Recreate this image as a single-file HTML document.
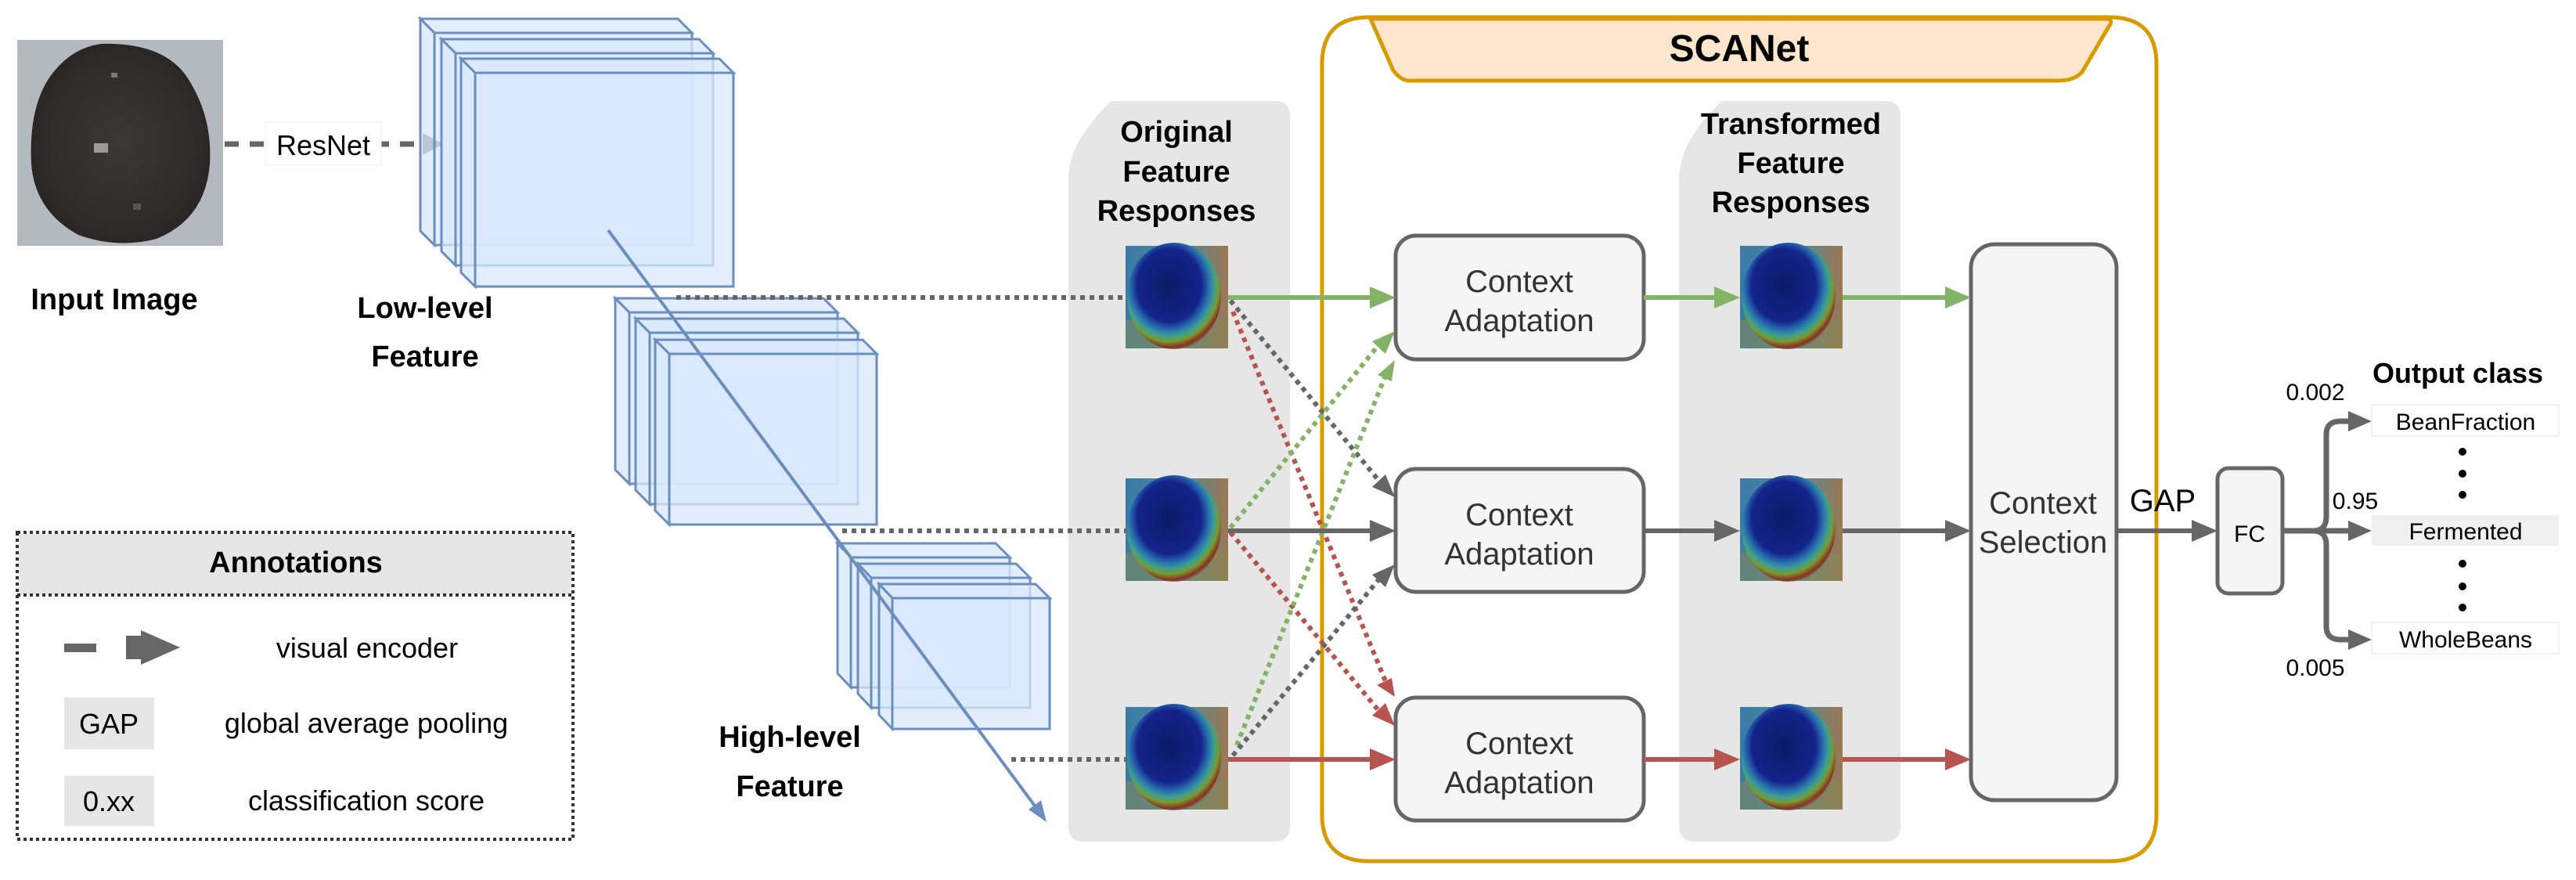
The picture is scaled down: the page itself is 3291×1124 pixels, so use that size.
<!DOCTYPE html>
<html><head><meta charset="utf-8"><style>
html,body{margin:0;padding:0;background:#fff;}
svg{display:block;}
text{font-family:"Liberation Sans",Arial,sans-serif;}
.b{font-weight:bold;fill:#000;}
</style></head><body>
<svg width="3291" height="1124" viewBox="0 0 3291 1124" xmlns="http://www.w3.org/2000/svg">
<defs>
<linearGradient id="hbg" x1="0" y1="0" x2="1" y2="0">
<stop offset="0" stop-color="#3a7aa8"/><stop offset="0.5" stop-color="#4b8a9a"/><stop offset="1" stop-color="#9a7855"/>
</linearGradient>
<radialGradient id="hrad" cx="0.45" cy="0.4" r="0.62">
<stop offset="0" stop-color="#0d1a66"/><stop offset="0.55" stop-color="#13238a"/><stop offset="0.68" stop-color="#2a6fb0"/><stop offset="0.77" stop-color="#3aa090"/><stop offset="0.85" stop-color="#7a9a30"/><stop offset="0.94" stop-color="#8a3020"/><stop offset="1" stop-color="#7a5050" stop-opacity="0.3"/>
</radialGradient>
<g id="heat">
<rect x="0" y="0" width="131" height="131" fill="url(#hbg)"/>
<rect x="0" y="95" width="131" height="36" fill="#8a8a50" opacity="0.5"/>
<ellipse cx="62" cy="64" rx="60" ry="68" fill="url(#hrad)"/>
</g>
<radialGradient id="bean" cx="0.5" cy="0.5" r="0.5">
<stop offset="0" stop-color="#3c3838"/><stop offset="0.9" stop-color="#2e2a2a"/><stop offset="1" stop-color="#2a2626"/>
</radialGradient>
</defs>

<!-- input image -->
<rect x="22" y="51" width="263" height="263" fill="#b4b9c0"/>
<path d="M130,56 Q210,54 240,100 Q272,150 268,210 Q262,280 200,305 Q150,318 100,300 Q45,270 40,210 Q36,130 70,90 Q95,60 130,56 z" fill="url(#bean)"/>
<rect x="120" y="183" width="18" height="12" fill="#9a9a9a"/>
<rect x="142" y="93" width="8" height="6" fill="#777"/>
<rect x="170" y="260" width="10" height="8" fill="#555"/>
<text x="146" y="395" class="b" font-size="38" text-anchor="middle">Input Image</text>

<!-- ResNet -->
<line x1="287" y1="184" x2="545" y2="184" stroke="#666" stroke-width="7" stroke-dasharray="18 14"/>
<rect x="339" y="156" width="148" height="55" fill="#fff" stroke="#eee" stroke-width="1"/>
<text x="413" y="198" font-size="36" text-anchor="middle" fill="#000">ResNet</text>
<path d="M540,170 L566,184 L540,198 z" fill="#666"/>

<!-- cubes -->
<g fill="#dae8fc" fill-opacity="0.75" stroke="#6c8ebf" stroke-width="3">
<polygon points="537,24 866,24 884,42 555,42"/><polygon points="537,24 555,42 555,313 537,295"/><rect x="555" y="42" width="329" height="271"/>
<polygon points="564,50 893,50 911,68 582,68"/><polygon points="564,50 582,68 582,339 564,321"/><rect x="582" y="68" width="329" height="271"/>
<polygon points="589,75 919,75 937,93 607,93"/><polygon points="589,75 607,93 607,366 589,348"/><rect x="607" y="93" width="330" height="273"/>

<polygon points="786,381 1052,381 1070,399 804,399"/><polygon points="786,381 804,399 804,618 786,600"/><rect x="804" y="399" width="266" height="219"/>
<polygon points="812,407 1078,407 1096,425 830,425"/><polygon points="812,407 830,425 830,644 812,626"/><rect x="830" y="425" width="266" height="219"/>
<polygon points="837,434 1102,434 1120,452 855,452"/><polygon points="837,434 855,452 855,670 837,652"/><rect x="855" y="452" width="265" height="218"/>

<polygon points="1070,694 1272,694 1290,712 1087,712"/><polygon points="1070,694 1087,712 1087,878 1070,860"/><rect x="1087" y="712" width="203" height="166"/>
<polygon points="1096,720 1298,720 1316,738 1113,738"/><polygon points="1096,720 1113,738 1113,904 1096,886"/><rect x="1113" y="738" width="203" height="166"/>
<polygon points="1123,746 1323,746 1341,764 1140,764"/><polygon points="1123,746 1140,764 1140,931 1123,913"/><rect x="1140" y="764" width="201" height="167"/>
</g>
<text x="543" y="406" class="b" font-size="38" text-anchor="middle">Low-level</text>
<text x="543" y="468" class="b" font-size="38" text-anchor="middle">Feature</text>
<text x="1009" y="954" class="b" font-size="38" text-anchor="middle">High-level</text>
<text x="1009" y="1017" class="b" font-size="38" text-anchor="middle">Feature</text>

<!-- annotations -->
<rect x="22" y="680" width="710" height="392" fill="#fff" stroke="#333" stroke-width="4" stroke-dasharray="4 4"/>
<rect x="24" y="682" width="706" height="78" fill="#e6e6e6"/>
<line x1="22" y1="760" x2="732" y2="760" stroke="#333" stroke-width="4" stroke-dasharray="4 4"/>
<rect x="22" y="680" width="710" height="392" fill="none" stroke="#333" stroke-width="4" stroke-dasharray="4 4"/>
<text x="378" y="731" class="b" font-size="38" text-anchor="middle">Annotations</text>
<rect x="82" y="822" width="41" height="11" fill="#666"/>
<path d="M161,812 L180,812 L180,805 L230,827 L180,849 L180,842 L161,842 z" fill="#666"/>
<text x="469" y="840" font-size="36" text-anchor="middle" fill="#000">visual encoder</text>
<rect x="82" y="891" width="115" height="66" fill="#e6e6e6"/>
<text x="139" y="937" font-size="36" text-anchor="middle" fill="#000">GAP</text>
<text x="468" y="936" font-size="36" text-anchor="middle" fill="#000">global average pooling</text>
<rect x="82" y="991" width="115" height="64" fill="#e6e6e6"/>
<text x="139" y="1036" font-size="36" text-anchor="middle" fill="#000">0.xx</text>
<text x="468" y="1035" font-size="36" text-anchor="middle" fill="#000">classification score</text>

<!-- blue arrow -->
<line x1="777" y1="294" x2="1330" y2="1040" stroke="#6c8ebf" stroke-width="4"/>
<path d="M1337,1050 L1314,1034 L1330,1022 z" fill="#6c8ebf"/>

<!-- panels -->
<path d="M1420,129 L1628,129 Q1648,129 1648,149 L1648,1055 Q1648,1075 1628,1075 L1385,1075 Q1365,1075 1365,1055 L1365,230 Q1365,180 1420,129 z" fill="#e6e6e6"/>
<path d="M2200,129 L2408,129 Q2428,129 2428,149 L2428,1055 Q2428,1075 2408,1075 L2165,1075 Q2145,1075 2145,1055 L2145,230 Q2145,180 2200,129 z" fill="#e6e6e6"/>
<text x="1503" y="181" class="b" font-size="38" text-anchor="middle">Original</text>
<text x="1503" y="232" class="b" font-size="38" text-anchor="middle">Feature</text>
<text x="1503" y="282" class="b" font-size="38" text-anchor="middle">Responses</text>
<text x="2288" y="171" class="b" font-size="38" text-anchor="middle">Transformed</text>
<text x="2288" y="221" class="b" font-size="38" text-anchor="middle">Feature</text>
<text x="2288" y="271" class="b" font-size="38" text-anchor="middle">Responses</text>

<!-- dotted from cubes -->
<g stroke="#666" stroke-width="6" stroke-dasharray="6 6" fill="none">
<line x1="864" y1="380" x2="1438" y2="380"/>
<line x1="1076" y1="678" x2="1438" y2="678"/>
<line x1="1292" y1="970" x2="1438" y2="970"/>
</g>

<!-- SCANet -->
<path d="M1780,22 L2695,22 Q2755,22 2755,82 L2755,1040 Q2755,1100 2695,1100 L1749,1100 Q1689,1100 1689,1040 L1689,82 Q1689,22 1749,22 z" fill="none" stroke="#d79b00" stroke-width="5"/>
<path d="M1751,24 L2693,24 Q2700,26 2694,34 L2660,92 Q2650,103 2630,103 L1800,103 Q1790,103 1780,90 z" fill="#ffe6cc" stroke="#d79b00" stroke-width="5"/>
<text x="2222" y="78" class="b" font-size="48" text-anchor="middle">SCANet</text>

<use href="#heat" x="1438" y="314"/>
<use href="#heat" x="1438" y="611"/>
<use href="#heat" x="1438" y="903"/>
<use href="#heat" x="2223" y="314"/>
<use href="#heat" x="2223" y="611"/>
<use href="#heat" x="2223" y="903"/>

<!-- context adaptation -->
<g fill="#f5f5f5" stroke="#666" stroke-width="5">
<rect x="1783" y="301" width="317" height="158" rx="26"/>
<rect x="1783" y="599" width="317" height="157" rx="26"/>
<rect x="1783" y="891" width="317" height="157" rx="26"/>
<rect x="2518" y="312" width="186" height="710" rx="30"/>
<rect x="2833" y="598" width="83" height="160" rx="14"/>
</g>
<g font-size="40" fill="#333" text-anchor="middle">
<text x="1941" y="373">Context</text><text x="1941" y="423">Adaptation</text>
<text x="1941" y="671">Context</text><text x="1941" y="721">Adaptation</text>
<text x="1941" y="963">Context</text><text x="1941" y="1013">Adaptation</text>
<text x="2610" y="656">Context</text><text x="2610" y="706">Selection</text>
</g>
<text x="2874" y="692" font-size="30" fill="#000" text-anchor="middle">FC</text>
<text x="2763" y="653" font-size="40" fill="#000" text-anchor="middle">GAP</text>

<!-- dotted cross arrows -->
<g stroke-width="6" stroke-dasharray="6 6" fill="none">
<line x1="1572" y1="384" x2="1765" y2="618" stroke="#666"/>
<line x1="1575" y1="398" x2="1770" y2="870" stroke="#b85450"/>
<line x1="1572" y1="674" x2="1765" y2="436" stroke="#82b366"/>
<line x1="1572" y1="680" x2="1765" y2="912" stroke="#b85450"/>
<line x1="1580" y1="952" x2="1770" y2="480" stroke="#82b366"/>
<line x1="1575" y1="965" x2="1765" y2="736" stroke="#666"/>
</g>
<g>
<path d="M1782,635 L1753,622 L1770,606 z" fill="#666"/>
<path d="M1782,890 L1759,875 L1778,866 z" fill="#b85450"/>
<path d="M1782,423 L1770,452 L1753,436 z" fill="#82b366"/>
<path d="M1782,927 L1753,914 L1770,898 z" fill="#b85450"/>
<path d="M1782,460 L1778,487 L1760,479 z" fill="#82b366"/>
<path d="M1782,721 L1770,750 L1753,734 z" fill="#666"/>
</g>

<!-- solid arrows -->
<g stroke-width="6">
<line x1="1569" y1="380" x2="1760" y2="380" stroke="#82b366"/>
<line x1="2100" y1="380" x2="2200" y2="380" stroke="#82b366"/>
<line x1="2354" y1="380" x2="2495" y2="380" stroke="#82b366"/>
<line x1="1569" y1="678" x2="1760" y2="678" stroke="#666"/>
<line x1="2100" y1="678" x2="2200" y2="678" stroke="#666"/>
<line x1="2354" y1="678" x2="2495" y2="678" stroke="#666"/>
<line x1="1569" y1="970" x2="1760" y2="970" stroke="#b85450"/>
<line x1="2100" y1="970" x2="2200" y2="970" stroke="#b85450"/>
<line x1="2354" y1="970" x2="2495" y2="970" stroke="#b85450"/>
<line x1="2704" y1="678" x2="2810" y2="678" stroke="#666"/>
</g>
<g>
<path d="M1783,380 L1750,366 L1750,394 z" fill="#82b366"/>
<path d="M2223,380 L2190,366 L2190,394 z" fill="#82b366"/>
<path d="M2518,380 L2485,366 L2485,394 z" fill="#82b366"/>
<path d="M1783,678 L1750,664 L1750,692 z" fill="#666"/>
<path d="M2223,678 L2190,664 L2190,692 z" fill="#666"/>
<path d="M2518,678 L2485,664 L2485,692 z" fill="#666"/>
<path d="M1783,970 L1750,956 L1750,984 z" fill="#b85450"/>
<path d="M2223,970 L2190,956 L2190,984 z" fill="#b85450"/>
<path d="M2518,970 L2485,956 L2485,984 z" fill="#b85450"/>
<path d="M2833,678 L2800,664 L2800,692 z" fill="#666"/>
</g>

<!-- output branches -->
<g stroke="#666" stroke-width="7" fill="none">
<path d="M2916,678 L3005,678"/>
<path d="M2955,678 Q2972,678 2972,660 L2972,555 Q2972,538 2990,538 L3005,538"/>
<path d="M2955,678 Q2972,678 2972,696 L2972,800 Q2972,817 2990,817 L3005,817"/>
</g>
<path d="M3030,538 L3000,525 L3000,551 z" fill="#666"/>
<path d="M3030,678 L3000,665 L3000,691 z" fill="#666"/>
<path d="M3030,817 L3000,804 L3000,830 z" fill="#666"/>
<rect x="3030" y="517" width="239" height="40" fill="#fff" stroke="#e6e6e6" stroke-width="1"/>
<rect x="3030" y="658" width="239" height="39" fill="#f0f0f0"/>
<rect x="3030" y="795" width="239" height="40" fill="#fff" stroke="#e6e6e6" stroke-width="1"/>
<g font-size="30" fill="#000" text-anchor="middle">
<text x="3150" y="549">BeanFraction</text>
<text x="3150" y="689">Fermented</text>
<text x="3150" y="827">WholeBeans</text>
<text x="2958" y="511">0.002</text>
<text x="3009" y="650">0.95</text>
<text x="2958" y="863">0.005</text>
</g>
<g fill="#000">
<circle cx="3146" cy="577" r="5"/><circle cx="3146" cy="605" r="5"/><circle cx="3146" cy="632" r="5"/>
<circle cx="3146" cy="720" r="5"/><circle cx="3146" cy="749" r="5"/><circle cx="3146" cy="776" r="5"/>
</g>
<text x="3140" y="489" class="b" font-size="36" text-anchor="middle">Output class</text>
</svg>
</body></html>
